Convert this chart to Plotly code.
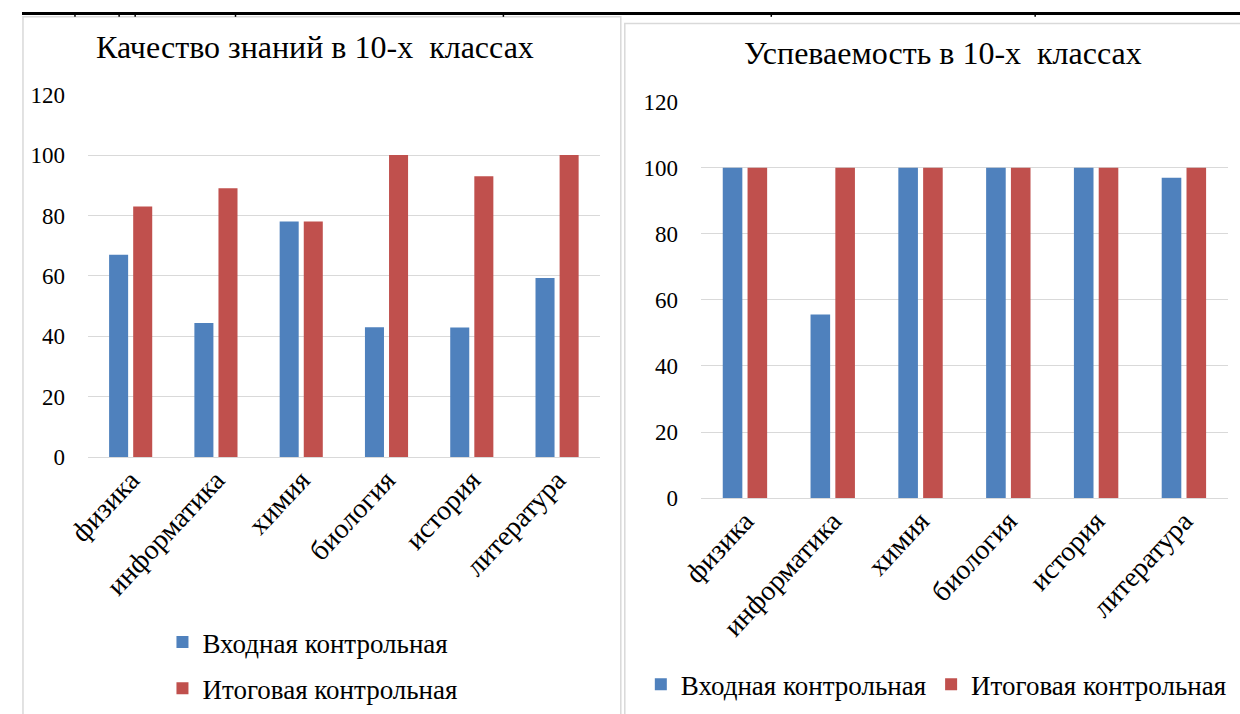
import plotly.graph_objects as go

W, H = 1240, 714

categories = ["физика", "информатика", "химия", "биология", "история", "литература"]
series_names = ["Входная контрольная", "Итоговая контрольная"]

quality_entry = [67, 44.4, 78, 43, 42.9, 59.3]
quality_final = [83, 89, 78, 100, 93, 100]

progress_entry = [100, 55.6, 100, 100, 100, 97]
progress_final = [100, 100, 100, 100, 100, 100]

title_left = "Качество знаний в 10-х  классах"
title_right = "Успеваемость в 10-х  классах"
y_ticks = [0, 20, 40, 60, 80, 100, 120]

BLUE = "#4F81BD"
RED = "#C0504D"
GRID = "#D9D9D9"
FONT = "Times New Roman, Liberation Serif, Tinos, DejaVu Serif, serif"

# mapping of the photographed page (offset and scale of the capture)
OX, SX = 20.2, 0.979
OY, SY = 12.4, 0.964


def px(x):
    return ((x - OX) / SX) / W


def py(y):
    return 1 - ((y - OY) / SY) / H


def pxr(x):  # raw page pixel
    return x / W


def pyr(y):
    return 1 - y / H


fig = go.Figure()

fig.add_trace(go.Bar(x=categories, y=quality_entry, name=series_names[0], marker_color=BLUE,
                     marker_line_width=0, xaxis="x", yaxis="y", legend="legend",
                     legendgroup="a"))
fig.add_trace(go.Bar(x=categories, y=quality_final, name=series_names[1], marker_color=RED,
                     marker_line_width=0, xaxis="x", yaxis="y", legend="legend",
                     legendgroup="b"))
fig.add_trace(go.Bar(x=categories, y=progress_entry, name=series_names[0], marker_color=BLUE,
                     marker_line_width=0, xaxis="x2", yaxis="y2", legend="legend2"))
fig.add_trace(go.Bar(x=categories, y=progress_final, name=series_names[1], marker_color=RED,
                     marker_line_width=0, xaxis="x2", yaxis="y2", legend="legend2"))

ytick_font = dict(family=FONT, size=23, color="#000000")
xtick_font = dict(family=FONT, size=28, color="#000000")

fig.update_layout(
    width=W, height=H,
    margin=dict(l=0, r=0, t=0, b=0),
    paper_bgcolor="white", plot_bgcolor="white",
    barmode="group", bargap=0.435, bargroupgap=0.21,
    font=dict(family=FONT, color="#000000"),
    xaxis=dict(domain=[px(86), px(596)], anchor="y", tickangle=-47, tickfont=xtick_font,
               showline=False, showgrid=False, ticks="", fixedrange=True),
    yaxis=dict(domain=[py(457), py(95)], anchor="x", range=[0, 120], tickvals=y_ticks,
               tickfont=ytick_font, showgrid=True, gridcolor=GRID, gridwidth=1.3,
               zeroline=True, zerolinecolor=GRID, zerolinewidth=1.3, showline=False,
               ticks="", ticklabelstandoff=22),
    xaxis2=dict(domain=[px(697), px(1222)], anchor="y2", tickangle=-47, tickfont=xtick_font,
                showline=False, showgrid=False, ticks=""),
    yaxis2=dict(domain=[py(498), py(102)], anchor="x2", range=[0, 120], tickvals=y_ticks,
                tickfont=ytick_font, showgrid=True, gridcolor=GRID, gridwidth=1.3,
                zeroline=True, zerolinecolor=GRID, zerolinewidth=1.3, showline=False,
                ticks="", ticklabelstandoff=22),
    legend=dict(x=pxr(143), y=pyr(628), xanchor="left", yanchor="top", orientation="v",
                font=dict(family=FONT, size=27), bgcolor="rgba(0,0,0,0)",
                tracegroupgap=8, traceorder="grouped", itemwidth=30),
    legend2=dict(x=pxr(630), y=pyr(697), xanchor="left", yanchor="middle", orientation="h",
                 font=dict(family=FONT, size=27), bgcolor="rgba(0,0,0,0)", itemwidth=30),
    showlegend=True,
)

fig.add_annotation(text=title_left, x=px(312), y=py(47), xref="paper", yref="paper",
                   showarrow=False, font=dict(family=FONT, size=32), xanchor="center",
                   yanchor="middle")
fig.add_annotation(text=title_right, x=px(938), y=py(53), xref="paper", yref="paper",
                   showarrow=False, font=dict(family=FONT, size=32), xanchor="center",
                   yanchor="middle")

# chart frames
fig.add_shape(type="rect", xref="paper", yref="paper", x0=pxr(1), x1=px(617), y0=pyr(730),
              y1=pyr(5), line=dict(color="#D9D9D9", width=1.5), layer="below")
fig.add_shape(type="rect", xref="paper", yref="paper", x0=px(621), x1=pxr(1260), y0=pyr(730),
              y1=pyr(12), line=dict(color="#D9D9D9", width=1.5), layer="below")
# black table border at top
fig.add_shape(type="rect", xref="paper", yref="paper", x0=0, x1=1, y0=pyr(3), y1=1,
              line=dict(width=0), fillcolor="black")
for xv in [73, 117, 133, 233, 500, 767, 1030]:
    fig.add_shape(type="line", xref="paper", yref="paper", x0=px(xv), x1=px(xv), y0=pyr(5), y1=1,
                  line=dict(color="black", width=1.5))

post = (
    "document.documentElement.style.margin='0';"
    "document.documentElement.style.overflow='hidden';"
    "document.body.style.margin='0';document.body.style.padding='0';"
    "document.body.style.overflow='hidden';"
    "var gd=document.getElementById('{plot_id}');"
    "gd.style.position='fixed';gd.style.left='0px';gd.style.top='0px';"
)

fig.write_html("out.html", config={"displayModeBar": False}, post_script=post)
